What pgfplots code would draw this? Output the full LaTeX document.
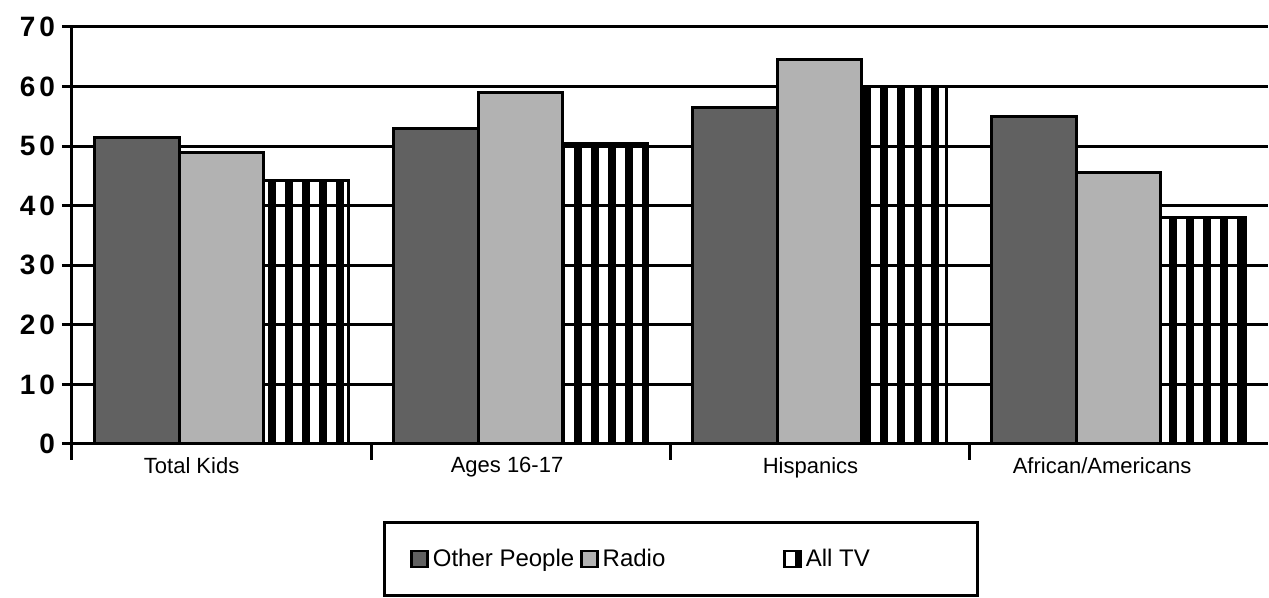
\documentclass[border=0pt]{standalone}
\usepackage{fontspec}
\setmainfont{Liberation Sans}
\usepackage{pgfplots}
\pgfplotsset{compat=1.18}
\usetikzlibrary{patterns.meta}

\begin{document}
\begin{tikzpicture}
\useasboundingbox (-36pt,-77pt) rectangle (598.5pt,222pt);
\begin{axis}[
  at={(0,0)}, anchor=south west,
  scale only axis, width=598pt, height=208.5pt,
  xmin=-0.5, xmax=3.5, ymin=0, ymax=70,
  axis x line*=bottom, axis y line*=left,
  axis line style={line width=1.5pt, -},
  ybar=0pt, bar width=0.284,
  ytick={0,10,...,70},
  yticklabels={0,1\hspace{2pt}0,2\hspace{2pt}0,3\hspace{2pt}0,4\hspace{2pt}0,5\hspace{2pt}0,6\hspace{2pt}0,7\hspace{2pt}0},
  yticklabel style={font=\bfseries\fontsize{14}{14}\selectfont},
  ytick style={line width=1.5pt, black},
  major tick length=5pt,
  tick align=outside,
  ymajorgrids,
  major grid style={line width=1.5pt, black},
  xtick={-0.1,0.955,1.97,2.945},
  xticklabels={Total Kids, Ages 16-17, Hispanics, African/Americans},
  xticklabel style={font=\fontsize{11}{13}\selectfont, yshift=2pt},
  xtick style={draw=none},
  extra x ticks={-0.5,0.5,1.5,2.5},
  extra x tick labels={,,,},
  extra x tick style={xtick style={draw=black, line width=1.5pt}, major tick length=8pt},
  legend columns=3,
  legend image code/.code={\draw[#1, line width=1.2pt] (0pt,-4pt) rectangle (8pt,4pt);},
  legend style={at={(0.26,-0.185)}, anchor=north west, draw=black, line width=1.5pt,
    inner xsep=13pt, inner ysep=11pt, font=\fontsize{12}{14}\selectfont,
    /tikz/column 2/.style={column sep=1pt},
    /tikz/column 4/.style={column sep=57pt}},
]
\addplot[draw=black, line width=1.5pt, fill=black!62] coordinates {(0,51.5) (1,53) (2,56.5) (3,55)};
\addlegendentry{Other People}
\addplot[draw=black, line width=1.5pt, fill=black!30] coordinates {(0,49) (1,59) (2,64.5) (3,45.5)};
\addlegendentry{Radio}
\addplot[draw=black, line width=1.5pt, pattern={Lines[angle=90,distance=8.5pt,line width=3.8pt]}, pattern color=black] coordinates {(0,44.2) (1,50.5) (2,60) (3,38)};
\addlegendentry{All TV\hspace*{39pt}}
\end{axis}
\end{tikzpicture}
\end{document}
